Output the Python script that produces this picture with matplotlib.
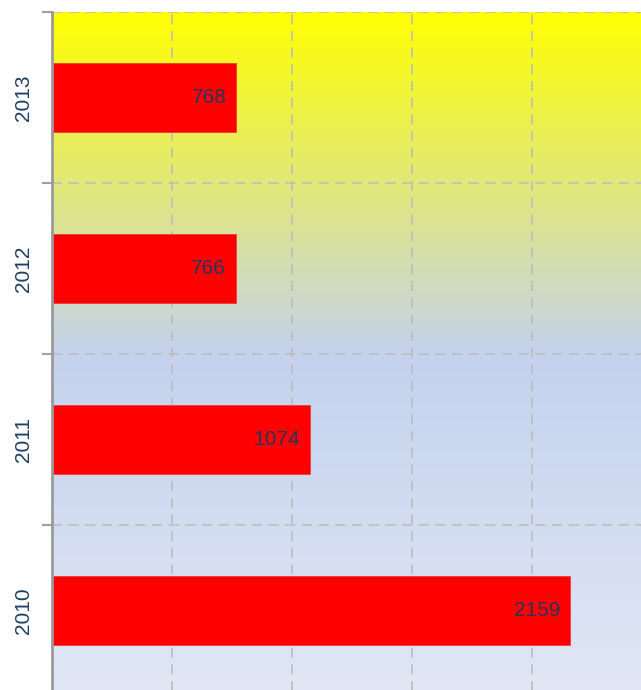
import numpy as np
import matplotlib
matplotlib.use("Agg")
import matplotlib.pyplot as plt
from matplotlib.colors import LinearSegmentedColormap

years = ["2010", "2011", "2012", "2013"]
values = [2159, 1074, 766, 768]

plt.rcParams['font.family'] = ['Liberation Sans', 'DejaVu Sans']

W, H = 641, 690
fig = plt.figure(figsize=(W / 100, H / 100), dpi=100)
left_px, top_px, bottom_px = 52, 12, 696
ax = fig.add_axes([left_px / W, (H - bottom_px) / H, 1 - left_px / W, (bottom_px - top_px) / H])

# background gradient (top yellow -> middle blue -> bottom light blue)
cmap = LinearSegmentedColormap.from_list(
    "bg", [(0.0, "#FFFF00"), (0.5, "#C4D2EE"), (1.0, "#E1E7F5")])
grad = np.linspace(0, 1, 512).reshape(-1, 1)
ax.imshow(grad, cmap=cmap, extent=[0, 1, 0, 1], transform=ax.transAxes,
          aspect='auto', zorder=0, interpolation='bicubic')

y = np.arange(len(years))
bars = ax.barh(y, values, height=0.4, color="#FF0000", edgecolor="#F23A3A",
               linewidth=0.6, zorder=3)
for yi, v in zip(y, values):
    ax.text(v - 10 / 0.24, yi, str(v), ha='right', va='center',
            fontsize=15, color="#27355A", zorder=4)

ax.set_yticks(y)
ax.set_yticklabels(years, rotation=90, va='center', fontsize=15, color="#1F3E66")
ax.set_yticks(np.arange(-0.5, len(years)), minor=True)
ax.tick_params(axis='y', which='major', length=0, pad=14)
ax.tick_params(axis='y', which='minor', length=7, width=1.5, color="#A0A0A0")
ax.set_xticks(np.arange(0, 2500, 500))
ax.tick_params(axis='x', length=0, labelbottom=False)

ax.set_xlim(0, (W - left_px) / 0.24)
ax.set_ylim(-0.5, len(years) - 0.5)

ax.grid(axis='x', which='major', color="#BDBDBD", linestyle=(0, (6, 4)), linewidth=1.2, zorder=1)
ax.grid(axis='y', which='minor', color="#BDBDBD", linestyle=(0, (6, 4)), linewidth=1.2, zorder=1)
ax.grid(axis='y', which='major', visible=False)

for s in ['top', 'right', 'bottom']:
    ax.spines[s].set_visible(False)
ax.spines['left'].set_color("#9A9A9A")
ax.spines['left'].set_linewidth(2)
ax.spines['left'].set_zorder(5)

fig.savefig("out.png", dpi=100)
